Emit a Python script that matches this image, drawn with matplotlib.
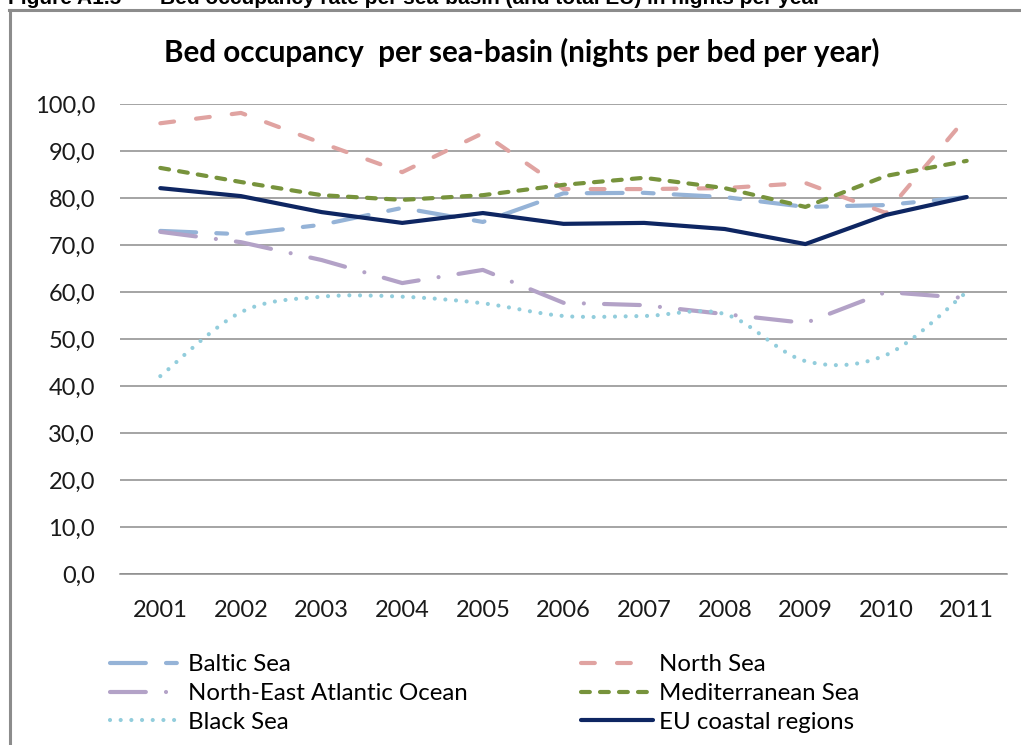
import matplotlib
matplotlib.use("Agg")
import matplotlib.pyplot as plt
from matplotlib.path import Path
from matplotlib.patches import PathPatch
from matplotlib.lines import Line2D
import numpy as np

# ---------------- data ----------------
years = ["2001", "2002", "2003", "2004", "2005", "2006", "2007", "2008", "2009", "2010", "2011"]
baltic = [73.0, 72.3, 74.3, 77.9, 74.9, 81.0, 81.1, 80.2, 78.1, 78.5, 80.2]
north_sea = [95.9, 98.1, 91.7, 85.5, 93.8, 81.9, 81.9, 82.1, 83.2, 76.8, 97.2]
ne_atlantic = [72.8, 70.6, 66.8, 61.9, 64.7, 57.7, 57.2, 55.3, 53.4, 60.0, 58.7]
mediterranean = [86.4, 83.4, 80.6, 79.6, 80.6, 82.8, 84.3, 82.1, 78.1, 84.7, 87.9]
black_sea = [42.1, 55.7, 59.0, 59.0, 57.6, 54.9, 54.9, 55.3, 45.3, 46.6, 60.0]
eu_coastal = [82.1, 80.4, 77.0, 74.7, 76.8, 74.5, 74.7, 73.4, 70.2, 76.4, 80.2]
y_ticks = [0, 10, 20, 30, 40, 50, 60, 70, 80, 90, 100]
y_ticklabels = ["0,0", "10,0", "20,0", "30,0", "40,0", "50,0", "60,0", "70,0", "80,0", "90,0", "100,0"]

title = "Bed occupancy  per sea-basin (nights per bed per year)"
caption_num = "Figure A1.5"
caption_text = "Bed occupancy rate per sea-basin (and total EU) in nights per year"

# ---------------- style ----------------
plt.rcParams["lines.scale_dashes"] = False
FONT = "Lato"
FS = 17
W, H = 1021, 745
fig = plt.figure(figsize=(W / 100, H / 100), dpi=100)

def fx(px):
    return px / W

def fy(py):
    return 1 - py / H

ax = fig.add_axes([fx(120), fy(574), fx(1007) - fx(120), fy(104) - fy(574)])
x = np.arange(len(years))

LW = 3.0  # points
cap = LW  # round cap extension (total) in points

def dash(*seq_px):
    # convert pixel on/off lengths (visible) to points with round cap compensation
    out = []
    for i, v in enumerate(seq_px):
        pt = v * 0.72
        if i % 2 == 0:
            out.append(max(pt - cap, 0.01))
        else:
            out.append(pt + cap)
    return (0, tuple(out))

styles = {
    "Baltic Sea": dict(color="#95B3D7", ls=dash(40, 16, 15, 16)),
    "North Sea": dict(color="#E0A3A1", ls=dash(18, 18)),
    "North-East Atlantic Ocean": dict(color="#B3A2C7", ls=dash(40, 16, 4, 16)),
    "Mediterranean Sea": dict(color="#77933C", ls=dash(13, 6)),
    "Black Sea": dict(color="#92CDDC", ls=dash(3.5, 6.5)),
    "EU coastal regions": dict(color="#0E2662", ls="-"),
}

series = [
    ("Baltic Sea", baltic),
    ("North Sea", north_sea),
    ("North-East Atlantic Ocean", ne_atlantic),
    ("Mediterranean Sea", mediterranean),
    ("Black Sea", black_sea),
    ("EU coastal regions", eu_coastal),
]

def smooth_path(xs, ys):
    xs = np.asarray(xs, float)
    ys = np.asarray(ys, float)
    pts = np.column_stack([xs, ys])
    n = len(pts)
    verts = [pts[0]]
    codes = [Path.MOVETO]
    for i in range(n - 1):
        p0 = pts[i - 1] if i > 0 else pts[i]
        p1 = pts[i]
        p2 = pts[i + 1]
        p3 = pts[i + 2] if i + 2 < n else pts[i + 1]
        c1 = p1 + (p2 - p0) / 6.0
        c2 = p2 - (p3 - p1) / 6.0
        verts += [c1, c2, p2]
        codes += [Path.CURVE4] * 3
    return Path(verts, codes)

handles = {}
for name, vals in series:
    st = styles[name]
    if name == "Black Sea":
        patch = PathPatch(smooth_path(x, vals), facecolor="none", edgecolor=st["color"],
                          linewidth=LW, linestyle=st["ls"], capstyle="round", joinstyle="round",
                          zorder=3)
        ax.add_patch(patch)
    else:
        ax.plot(x, vals, color=st["color"], linewidth=LW, linestyle=st["ls"],
                dash_capstyle="round", solid_capstyle="round", dash_joinstyle="round",
                solid_joinstyle="round", zorder=4 if name == "EU coastal regions" else 3)
    handles[name] = Line2D([], [], color=st["color"], linewidth=LW, linestyle=st["ls"],
                           dash_capstyle="round", solid_capstyle="round")

ax.set_xlim(-0.5, len(years) - 0.5)
ax.set_ylim(0, 100)
ax.set_yticks(y_ticks)
ax.set_yticklabels(y_ticklabels, fontfamily=FONT, fontsize=FS, color="#1a1a1a")
ax.set_xticks(x)
ax.set_xticklabels(years, fontfamily=FONT, fontsize=FS, color="#1a1a1a")
ax.tick_params(axis="both", length=0)
ax.tick_params(axis="y", pad=18)
ax.tick_params(axis="x", pad=19)
ax.grid(axis="y", color="#8C8C8C", linewidth=1.1)
ax.set_axisbelow(True)
for s in ["top", "right", "left"]:
    ax.spines[s].set_visible(False)
ax.spines["bottom"].set_color("#8C8C8C")
ax.spines["bottom"].set_linewidth(1.1)

# title
fig.text(fx(522), fy(62), title, ha="center", va="baseline", fontfamily=FONT,
         fontweight="bold", fontsize=21.3, color="#000000")

# caption (cut off at the top, as in the source document)
fig.text(fx(8), fy(4), caption_num, ha="left", va="baseline", fontfamily="Liberation Sans",
         fontweight="bold", fontsize=15, color="#000000")
fig.text(fx(160), fy(4), caption_text, ha="left", va="baseline", fontfamily="Liberation Sans",
         fontweight="bold", fontsize=15, color="#000000")

# border
fig.add_artist(Line2D([fx(9), 1.0], [fy(10), fy(10)], color="#8C8C8C", linewidth=2.2,
                      transform=fig.transFigure))
fig.add_artist(Line2D([fx(10), fx(10)], [fy(10), 0.0], color="#8C8C8C", linewidth=2.2,
                      transform=fig.transFigure))

# legend (two columns placed individually)
col1 = ["Baltic Sea", "North-East Atlantic Ocean", "Black Sea"]
col2 = ["North Sea", "Mediterranean Sea", "EU coastal regions"]
legkw = dict(frameon=False, prop={"family": FONT, "size": FS + 0.3}, handlelength=3.0,
             handletextpad=0.25, labelspacing=0.33, borderpad=0, borderaxespad=0,
             loc="upper left")
leg1 = fig.legend([handles[n] for n in col1], col1, bbox_to_anchor=(fx(110), fy(654)), **legkw)
leg2 = fig.legend([handles[n] for n in col2], col2, bbox_to_anchor=(fx(581), fy(654)), **legkw)

fig.savefig("out.png", dpi=100, facecolor="white")
